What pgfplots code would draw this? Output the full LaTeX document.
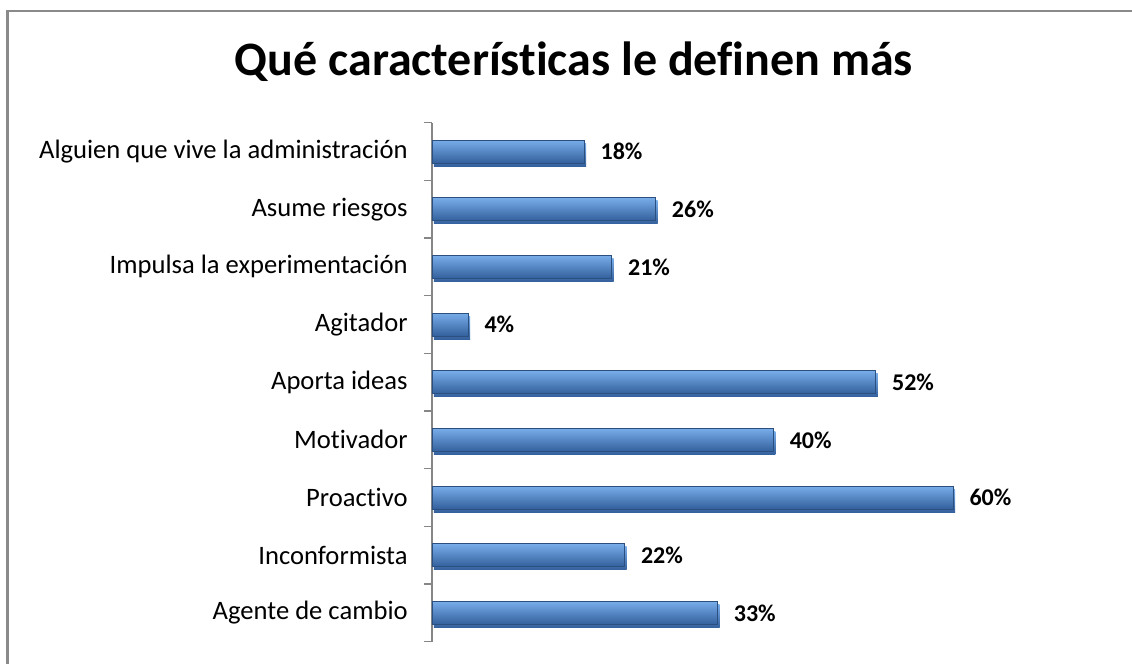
\documentclass[border=0pt]{standalone}
\usepackage{pgfplots}
\pgfplotsset{compat=1.18}
\usepackage{fontspec}
\setmainfont{Carlito}[Ligatures=NoCommon]
\definecolor{barTop}{HTML}{78ADEA}
\definecolor{barMid}{HTML}{4C80C2}
\definecolor{barBot}{HTML}{33609C}
\definecolor{barEdge}{HTML}{2B5080}
\definecolor{axGray}{HTML}{868686}
\definecolor{frameGray}{HTML}{8A8A8A}
\pgfplotsset{mybar/.style={xbar, bar shift=0pt, bar width=11.5pt, draw=barEdge, line width=0.4pt, top color=barTop, middle color=barMid, bottom color=barBot, mark=none,
  preaction={fill=black!22, draw=none, transform canvas={shift={(1pt,-1.6pt)}}}}}
\begin{document}
\begin{tikzpicture}
\path[use as bounding box] (0,0) rectangle (566pt,332pt);
% chart frame (top and left edges visible)
\draw[frameGray, line width=1.3pt] (3.75pt,0) -- (3.75pt,326.5pt) -- (566pt,326.5pt);
\node[anchor=base, inner sep=0pt, font=\bfseries\fontsize{24}{29}\selectfont] at (287pt,294pt) {Qué características le definen más};
\begin{axis}[
  at={(216pt,11.15pt)}, anchor=south west,
  scale only axis, width=301pt, height=259.5pt,
  xmin=0, xmax=70, ymin=0.5, ymax=9.5,
  axis x line=none,
  axis y line*=left,
  y axis line style={axGray, line width=0.75pt, -},
  ytick={1,...,9},
  yticklabels={Agente de cambio, Inconformista, Proactivo, Motivador, Aporta ideas, Agitador, Impulsa la experimentación, Asume riesgos, Alguien que vive la administración},
  minor ytick={0.5,1.5,...,9.5},
  major tick length=0pt, minor tick length=4pt,
  tick align=outside,
  minor tick style={axGray, line width=0.75pt},
  yticklabel style={font=\fontsize{13.3}{15}\selectfont, inner sep=0pt, xshift=-12pt},
  clip=false,
  /pgf/number format/assume math mode=true,
  point meta=explicit,
  nodes near coords={\pgfmathprintnumber[fixed,precision=0,assume math mode=true]{\pgfplotspointmeta}\%},
  every node near coord/.append style={font=\bfseries\fontsize{12}{14}\selectfont, inner sep=0pt, anchor=west, xshift=8pt, text=black},
]
\addplot[mybar] coordinates {(33.2,1) [33]};
\addplot[mybar] coordinates {(22.4,2) [22]};
\addplot[mybar] coordinates {(60.6,3) [60]};
\addplot[mybar] coordinates {(39.7,4) [40]};
\addplot[mybar] coordinates {(51.6,5) [52]};
\addplot[mybar] coordinates {(4.2,6) [4]};
\addplot[mybar] coordinates {(20.9,7) [21]};
\addplot[mybar] coordinates {(26.0,8) [26]};
\addplot[mybar] coordinates {(17.7,9) [18]};
\end{axis}
\end{tikzpicture}
\end{document}
